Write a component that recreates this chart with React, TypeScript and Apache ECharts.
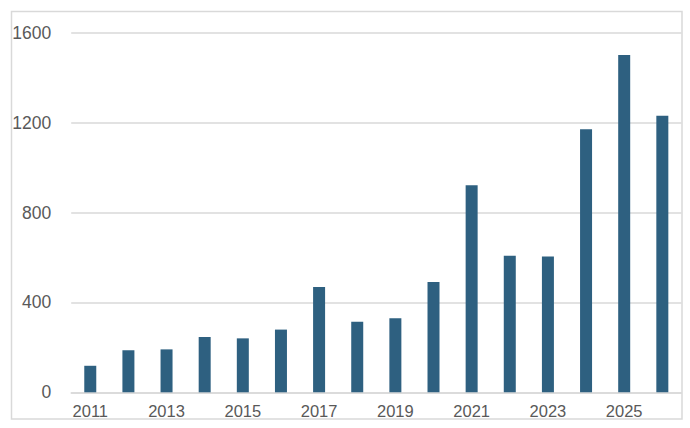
import { useEffect, useRef } from 'react'
import * as echarts from 'echarts'

// Yearly counts.
const YEARS = [
  '2011', '2012', '2013', '2014', '2015', '2016', '2017', '2018',
  '2019', '2020', '2021', '2022', '2023', '2024', '2025', '2026',
]
const COUNTS = [118, 187, 191, 246, 240, 279, 469, 314, 329, 491, 921, 608, 604, 1170, 1501, 1231]

const Y_MIN = 0
const Y_MAX = 1600
const Y_STEP = 400

const BAR = '#2e6080'
const TEXT = '#595959'
const LINE = '#d9d9d9'
const FONT = 'Helvetica, Arial, "Liberation Sans", sans-serif'

export default function App() {
  const ref = useRef<HTMLDivElement>(null)

  useEffect(() => {
    const el = ref.current
    if (!el) return
    const chart = echarts.init(el, undefined, { renderer: 'svg' })
    chart.setOption({
      animation: false,
      backgroundColor: '#ffffff',
      textStyle: { fontFamily: FONT },
      graphic: [
        {
          type: 'rect',
          shape: { x: 11.5, y: 11.5, width: 670.5, height: 407.5 },
          style: { fill: 'none', stroke: LINE, lineWidth: 1.5 },
          silent: true,
        },
      ],
      grid: { left: 71.2, right: 8.6, top: 32.7, bottom: 35.7 },
      xAxis: {
        type: 'category',
        data: YEARS,
        axisTick: { show: false },
        axisLine: { lineStyle: { color: LINE, width: 1.5 } },
        axisLabel: { interval: 1, color: TEXT, fontSize: 16.5, margin: 10, fontFamily: FONT },
      },
      yAxis: {
        type: 'value',
        min: Y_MIN,
        max: Y_MAX,
        interval: Y_STEP,
        axisLine: { show: false },
        axisTick: { show: false },
        axisLabel: {
          color: TEXT,
          fontSize: 17.5,
          margin: 20,
          fontFamily: FONT,
          formatter: (v: number) => String(v),
        },
        splitLine: { lineStyle: { color: LINE, width: 1.5 } },
      },
      series: [
        {
          type: 'bar',
          data: COUNTS,
          barWidth: 12,
          itemStyle: { color: BAR },
        },
      ],
    })
    return () => chart.dispose()
  }, [])

  return (
    <div
      ref={ref}
      style={{ position: 'fixed', left: 0, top: 0, width: 690, height: 428 }}
    />
  )
}
